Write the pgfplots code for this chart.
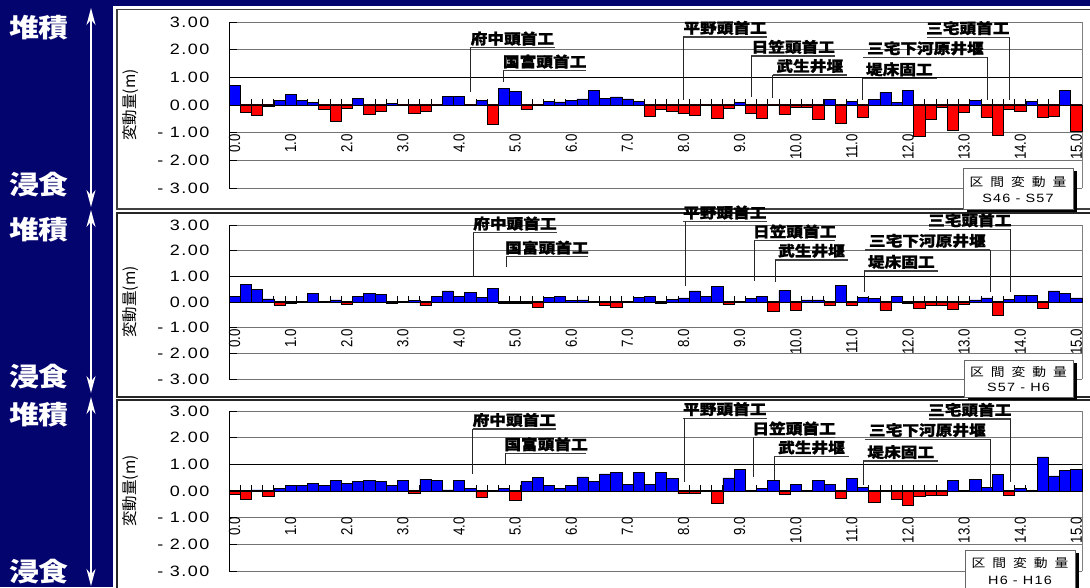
\documentclass[border=0pt]{standalone}
\usepackage{pgfplots}
\pgfplotsset{compat=1.18}
\usepackage{pgfplotstable}
\usetikzlibrary{arrows.meta}
\usepackage{fontspec}
\setmainfont{Liberation Sans}
\newfontfamily\numf{Liberation Sans}[FakeStretch=1.2,LetterSpace=10]
\newfontfamily\xtf{Liberation Sans}[FakeStretch=0.83]
\newfontfamily\cjk{Noto Sans CJK JP}
\newfontfamily\cjkw{Noto Sans CJK JP}[FakeStretch=1.15]
\newfontfamily\cjkh{Noto Sans CJK JP}[FakeStretch=1.15, BoldFeatures={FakeBold=1.2}]
\definecolor{navy}{RGB}{4,4,110}
\definecolor{barblue}{RGB}{0,0,255}
\definecolor{barred}{RGB}{255,0,0}
\newcommand\annfont{\cjkh\bfseries\fontsize{14.5}{14.5}\selectfont}
\newcommand{\annot}[6]{%
  \draw[black!75, line width=1.3pt] (axis cs:#1,#3) -- node[midway, above, inner sep=1.5pt, text=black, font=\annfont]{#6} (axis cs:#2,#3);
  \draw[black!85, line width=0.8pt] (axis cs:#4,#3) -- (axis cs:#4,#5);
}
\pgfplotstableread{
x a b c
0.0 0.70 0.21 -0.11
0.2 -0.27 0.69 -0.31
0.4 -0.37 0.48 0.04
0.6 -0.03 0.12 -0.20
0.8 0.16 -0.13 0.11
1.0 0.37 -0.05 0.20
1.2 0.16 0.01 0.22
1.4 0.08 0.35 0.29
1.6 -0.14 0.01 0.22
1.8 -0.60 0.08 0.41
2.0 -0.12 -0.09 0.29
2.2 0.24 0.21 0.36
2.4 -0.34 0.35 0.41
2.6 -0.23 0.29 0.36
2.8 0.05 -0.06 0.22
3.0 -0.01 -0.02 0.41
3.2 -0.29 0.06 -0.10
3.4 -0.23 -0.14 0.45
3.6 -0.02 0.22 0.41
3.8 0.30 0.43 0.04
4.0 0.30 0.21 0.39
4.2 -0.02 0.36 0.11
4.4 0.16 0.18 -0.25
4.6 -0.71 0.53 0.03
4.8 0.59 -0.06 0.11
5.0 0.48 -0.05 -0.36
5.2 -0.17 -0.05 0.36
5.4 -0.01 -0.21 0.50
5.6 0.13 0.19 0.22
5.8 0.11 0.22 0.09
6.0 0.16 0.05 0.22
6.2 0.22 0.08 0.53
6.4 0.54 0.02 0.36
6.6 0.24 -0.12 0.64
6.8 0.29 -0.22 0.69
7.0 0.22 0.01 0.25
7.2 0.13 0.19 0.69
7.4 -0.41 0.21 0.25
7.6 -0.17 -0.06 0.71
7.8 -0.23 0.10 0.47
8.0 -0.31 0.16 -0.10
8.2 -0.37 0.43 -0.10
8.4 -0.02 0.21 0.01
8.6 -0.47 0.62 -0.45
8.8 -0.11 -0.09 0.49
9.0 0.10 0.01 0.82
9.2 -0.29 0.14 0.01
9.4 -0.47 0.23 0.09
9.6 -0.01 -0.36 0.39
9.8 -0.33 0.45 -0.12
10.0 -0.07 -0.32 0.25
10.2 -0.07 0.08 -0.02
10.4 -0.51 0.08 0.41
10.6 0.19 -0.13 0.25
10.8 -0.65 0.66 -0.28
11.0 0.13 -0.13 0.47
11.2 -0.43 0.19 0.13
11.4 0.19 0.13 -0.43
11.6 0.46 -0.31 0.01
11.8 0.10 0.22 -0.32
12.0 0.52 -0.06 -0.53
12.2 -1.13 -0.25 -0.20
12.4 -0.51 -0.13 -0.16
12.6 -0.07 -0.13 -0.16
12.8 -0.93 -0.29 0.39
13.0 -0.25 -0.09 0.02
13.2 0.17 0.08 0.43
13.4 -0.43 0.16 0.14
13.6 -1.08 -0.52 0.63
13.8 -0.14 0.10 -0.16
14.0 -0.23 0.27 0.10
14.2 0.13 0.26 0.01
14.4 -0.43 -0.25 1.28
14.6 -0.41 0.43 0.57
14.8 0.54 0.34 0.77
15.0 -0.95 0.16 0.81
}\data
\pgfplotsset{panel/.style={
  scale only axis, width=853pt, anchor=south west,
  xmin=-0.1, xmax=15.1, ymin=-3, ymax=3,
  axis x line=middle, axis y line=left, axis line style={-},
  x axis line style={black, line width=1.2pt},
  y axis line style={black, line width=0.8pt},
  hide obscured x ticks=false, hide obscured y ticks=false,
  xtick={0,...,15}, xtick style={draw=none},
  /pgf/number format/assume math mode=true,
  xticklabel={\pgfmathprintnumber[fixed,fixed zerofill,precision=1]{\tick}},
  x tick label style={rotate=90, anchor=east, font=\xtf\fontsize{16}{16}\selectfont},
  ytick={-3,...,3}, yticklabels={- 3.00,- 2.00,- 1.00,0.00,1.00,2.00,3.00},
  y tick label style={font=\numf\fontsize{15}{15}\selectfont, xshift=-16pt},
  ytick align=inside, major tick length=8pt, ytick style={black, line width=0.8pt},
  ymajorgrids, major grid style={black!55, line width=0.8pt},
  ybar, bar width=0.2, bar shift=0pt,
  clip=false,
  ylabel={\cjk 変動量(m)},
  ylabel style={at={(axis description cs:-0.115,0.5)}, anchor=center, font=\fontsize{15.5}{15.5}\selectfont},
}}
\newcommand{\ticksandgrid}{%
  \draw[black, line width=0.9pt] (axis cs:-0.1,1) -- (axis cs:15.1,1);
  \draw[black!50, line width=0.8pt] (axis cs:15.1,-3) -- (axis cs:15.1,3);
  \pgfplotsinvokeforeach{0.1,0.3,...,14.95}{\draw[black, line width=0.8pt] (axis cs:##1,0) -- ++(0pt,6pt);}
}
\newcommand{\legbox}[5]{% x1 y1 x2 y2 second line
  \fill[black] (#1+4,#2-3) rectangle (#3+4,#4-3);
  \filldraw[fill=white, draw=black!60, line width=0.8pt] (#1,#2) rectangle (#3,#4);
  \node[font=\cjkw\fontsize{12}{12}\selectfont, inner sep=0pt] at ({(#1+#3)/2},{#4-(#4-#2)*0.33}) {区\hspace{7pt}間\hspace{7pt}変\hspace{7pt}動\hspace{7pt}量};
  \node[font=\numf\fontsize{12}{12}\selectfont, inner sep=0pt] at ({(#1+#3)/2},{#4-(#4-#2)*0.75}) {#5};
}
\begin{document}
\begin{tikzpicture}[x=1pt,y=1pt]
\useasboundingbox (0,0) rectangle (1090,587);
\fill[navy] (0,0) rectangle (1090,587);
% panels
\fill[white] (113,376) rectangle (1090,581);
\fill[white] (113,189) rectangle (1090,376);
\fill[white] (113,0) rectangle (1090,189);
\draw[black!75, line width=1.4pt] (117,378) rectangle (1096,577.5);
\draw[black!85, line width=1.4pt] (117,190) rectangle (1096,374);
\draw[black!85, line width=1.4pt] (117,-5) rectangle (1096,187);
% left labels
\foreach \ya/\yb/\ta/\tb in {559/402/579/380, 357/210/377/194, 172/15/190/1}{
  \node[white, font=\cjkw\bfseries\fontsize{26}{26}\selectfont] at (39,\ya) {堆積};
  \node[white, font=\cjkw\bfseries\fontsize{26}{26}\selectfont] at (39,\yb) {浸食};
  \draw[white, line width=1.6pt, {Stealth[length=17pt,width=9pt]}-{Stealth[length=17pt,width=9pt]}] (91,\ta) -- (91,\tb);
}
% ---------- panel 1: S46-S57
\begin{axis}[panel, at={(229pt,399pt)}, height=166pt, xticklabel shift=17.5pt]
\ticksandgrid
\addplot[fill=barblue, draw=black, line width=0.6pt, bar shift=0pt, restrict y to domain=0:10] table[x=x,y=a]{\data};
\addplot[fill=barred, draw=black, line width=0.6pt, bar shift=0pt, restrict y to domain=-10:0] table[x=x,y=a]{\data};
\annot{4.19}{5.71}{2.07}{4.20}{0.48}{府中頭首工}
\annot{4.79}{6.26}{1.24}{4.79}{0.84}{国富頭首工}
\annot{7.99}{9.49}{2.46}{8.00}{0.18}{平野頭首工}
\annot{9.21}{10.70}{1.77}{9.21}{0.30}{日笠頭首工}
\annot{9.59}{10.91}{1.08}{9.59}{0.25}{武生井堰}
\annot{11.20}{13.42}{1.72}{13.42}{0.18}{三宅下河原井堰}
\annot{11.18}{12.51}{0.96}{11.18}{0.18}{堤床固工}
\annot{12.33}{13.80}{2.45}{13.80}{0.18}{三宅頭首工}
\end{axis}
% ---------- panel 2: S57-H6
\begin{axis}[panel, at={(229pt,208pt)}, height=154pt, xticklabel shift=15.5pt]
\ticksandgrid
\addplot[fill=barblue, draw=black, line width=0.6pt, bar shift=0pt, restrict y to domain=0:10] table[x=x,y=b]{\data};
\addplot[fill=barred, draw=black, line width=0.6pt, bar shift=0pt, restrict y to domain=-10:0] table[x=x,y=b]{\data};
\annot{4.25}{5.74}{2.70}{4.25}{0.99}{府中頭首工}
\annot{4.84}{6.29}{1.76}{4.84}{1.38}{国富頭首工}
\annot{7.99}{9.48}{3.13}{8.04}{0.62}{平野頭首工}
\annot{9.26}{10.70}{2.39}{9.26}{0.83}{日笠頭首工}
\annot{9.63}{10.93}{1.64}{9.63}{0.77}{武生井堰}
\annot{11.23}{13.46}{2.03}{13.46}{0.40}{三宅下河原井堰}
\annot{11.22}{12.54}{1.21}{11.22}{0.38}{堤床固工}
\annot{12.37}{13.83}{2.83}{13.83}{0.38}{三宅頭首工}
\end{axis}
% ---------- panel 3: H6-H16
\begin{axis}[panel, at={(229pt,16pt)}, height=160pt, xticklabel shift=15pt]
\ticksandgrid
\addplot[fill=barblue, draw=black, line width=0.6pt, bar shift=0pt, restrict y to domain=0:10] table[x=x,y=c]{\data};
\addplot[fill=barred, draw=black, line width=0.6pt, bar shift=0pt, restrict y to domain=-10:0] table[x=x,y=c]{\data};
\annot{4.24}{5.73}{2.32}{4.24}{0.64}{府中頭首工}
\annot{4.83}{6.27}{1.41}{4.83}{1.00}{国富頭首工}
\annot{7.99}{9.48}{2.73}{8.01}{0.33}{平野頭首工}
\annot{9.24}{10.70}{2.00}{9.24}{0.54}{日笠頭首工}
\annot{9.62}{10.94}{1.29}{9.62}{0.41}{武生井堰}
\annot{11.23}{13.46}{1.94}{13.46}{0.12}{三宅下河原井堰}
\annot{11.20}{12.54}{1.12}{11.20}{0.22}{堤床固工}
\annot{12.37}{13.83}{2.70}{13.83}{0.33}{三宅頭首工}
\end{axis}
% legend boxes
\legbox{963}{378}{1073}{419}{S46 - S57}
\legbox{964}{190}{1073}{227}{S57 - H6}
\legbox{965}{-3}{1075}{37}{H6 - H16}
\end{tikzpicture}
\end{document}
